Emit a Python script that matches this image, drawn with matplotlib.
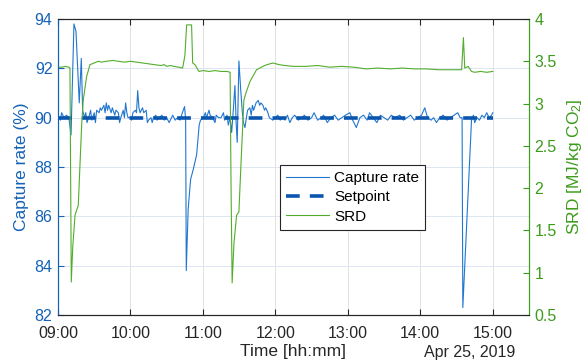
import matplotlib
matplotlib.use("Agg")
import matplotlib.pyplot as plt
import pandas as pd

plt.rcParams['font.family'] = ['Liberation Sans', 'DejaVu Sans']
plt.rcParams['mathtext.fontset'] = 'custom'
plt.rcParams['mathtext.rm'] = 'Liberation Sans'
plt.rcParams['mathtext.it'] = 'Liberation Sans:italic'

# ---------------- data (minutes after 09:00 on 2019-04-25) ----------------
capture_min = [0, 2, 3, 5, 7, 9, 10.8, 13.2, 14.9, 17.6, 19.3, 20.4, 22, 23, 24, 26, 27, 28, 30, 31,
               32, 34, 35, 36, 38, 39, 40, 41, 42, 44, 45, 47, 48, 50, 51, 52, 54, 55, 56, 57,
               58, 60, 61, 62, 64, 65, 66, 67, 68, 70, 71, 73, 74, 75, 77, 78, 79, 81, 82, 84,
               86, 88, 90, 92, 94, 95, 97, 99, 101, 103, 104.8, 105.7, 106.2, 107.8, 109.8, 112,
               114.8, 116.9, 118, 120.3, 122, 123, 125, 126, 128, 130, 131, 133, 135, 137, 138,
               140, 141, 142.5, 143.8, 145, 146.5, 147.5, 148.4, 149.8, 151.2, 152.5, 153.5,
               154.8, 156, 157, 158.9, 160, 161, 162, 164, 165.8, 167, 168, 169.7, 171, 172,
               173.8, 175, 177.9, 180, 182, 184, 186, 188, 190, 192, 194, 196, 199, 202, 204,
               207, 210, 212, 215, 218, 220, 223, 226, 229, 232, 235, 238, 241.7, 244, 247, 250,
               253, 256, 258, 261, 264, 267, 270, 273, 276, 279, 283, 286, 289, 292, 295, 298,
               301, 303.7, 306, 309, 311, 313.4, 316, 319, 322, 325, 328, 331, 333, 334.6, 335.2,
               342.4, 344, 345, 347, 349, 351, 353, 355, 357, 359, 360]
capture_val = [90.1, 89.9, 90.2, 90.0, 90.1, 90.0, 89.3, 93.8, 93.5, 90.6, 92.4, 90.3, 90.0, 90.2, 89.8, 90.1, 90.3, 89.9, 90.2, 89.8,
               90.3, 90.2, 90.4, 90.3, 90.5, 90.2, 90.6, 90.3, 90.5, 90.2, 90.4, 90.1, 90.3, 90.2, 89.8, 90.0, 90.3, 90.0, 90.6, 90.2,
               90.0, 90.0, 89.9, 90.2, 90.3, 90.2, 91.1, 90.4, 90.2, 90.4, 90.2, 90.3, 89.8, 89.9, 90.0, 89.8, 90.0, 90.1, 89.9, 90.0,
               90.1, 89.9, 90.0, 89.8, 90.0, 90.1, 89.9, 90.0, 89.9, 90.2, 90.45, 89.9, 83.8, 86.3, 87.5, 87.9,
               88.5, 89.7, 89.9, 90.0, 90.2, 90.0, 90.3, 90.1, 90.0, 89.8, 90.1, 90.0, 90.0, 90.2, 89.9,
               90.1, 89.7, 90.0, 89.4, 90.2, 91.3, 89.8, 89.0, 92.3, 91.2, 90.3, 89.8,
               89.6, 90.0, 90.3, 90.4, 90.1, 90.5, 90.3, 90.6, 90.7, 90.5, 90.6, 90.5, 90.3, 90.4,
               90.2, 90.0, 89.9, 90.0, 90.1, 89.9, 90.0, 89.9, 90.1, 89.8, 90.0, 90.1, 89.9, 90.0, 90.1,
               89.9, 90.0, 90.2, 89.9, 90.0, 90.1, 89.8, 90.0, 90.1, 89.9, 90.0, 90.1, 90.2, 89.9, 89.6, 90.0,
               90.1, 89.9, 90.2, 90.0, 89.8, 90.1, 90.0, 89.9, 90.1, 90.0, 90.1, 89.9, 90.0, 90.1, 89.9, 90.0,
               90.1, 90.4, 90.0, 89.9, 90.0, 89.8, 90.0, 90.1, 89.9, 90.0, 90.1, 90.2, 90.0, 90.0, 82.3,
               89.9, 90.1, 89.8, 90.0, 89.9, 90.1, 90.0, 90.2, 90.0, 90.1, 90.2]

srd_min = [0, 3, 6, 9, 9.9, 11.0, 12.2, 14.1, 16.8, 19.6, 20.9, 23.7, 26.5, 33.4, 36, 40, 45, 50, 55,
           60, 65, 70, 75, 80, 85, 88, 90, 93, 96, 100, 103.2, 105.1, 106.5, 110.6, 111.5, 113.4,
           116.7, 120, 125, 130, 135, 140, 142.5, 143.3, 144.2, 145.7, 147.9, 149.8, 151.4, 153.9,
           155.5, 158.9, 164.4, 169.7, 173, 178, 183, 188, 195, 205, 215, 225, 235, 245, 255, 265,
           275, 285, 295, 305, 315, 325, 334.2, 335.7, 336.8, 339.6, 342.4, 345, 350, 355, 360]
srd_val = [3.43, 3.43, 3.44, 3.43, 3.42, 0.89, 1.30, 1.68, 1.80, 2.75, 3.04, 3.32, 3.46, 3.50, 3.49, 3.50, 3.51, 3.50, 3.49,
           3.50, 3.49, 3.48, 3.47, 3.46, 3.45, 3.46, 3.44, 3.45, 3.44, 3.43, 3.42, 3.57, 3.93, 3.93, 3.48, 3.46,
           3.38, 3.39, 3.38, 3.39, 3.38, 3.38, 3.37, 2.0, 0.88, 1.35, 1.68, 1.72, 2.25, 3.04,
           3.12, 3.26, 3.40, 3.44, 3.46, 3.48, 3.46, 3.45, 3.44, 3.44, 3.45, 3.43, 3.44, 3.43, 3.41, 3.42,
           3.41, 3.42, 3.41, 3.41, 3.40, 3.40, 3.40, 3.78, 3.42, 3.44, 3.38, 3.37, 3.38, 3.37, 3.38]

setpoint_min = [0, 360]
setpoint_val = [90, 90]

left_ticks = [82, 84, 86, 88, 90, 92, 94]
right_ticks = [0.5, 1, 1.5, 2, 2.5, 3, 3.5, 4]
right_ticklabels = ['0.5', '1', '1.5', '2', '2.5', '3', '3.5', '4']
hour_ticks = ['09:00', '10:00', '11:00', '12:00', '13:00', '14:00', '15:00']

start = pd.Timestamp('2019-04-25 09:00')
def to_time(mins):
    return start + pd.to_timedelta(mins, unit='min')

BLUE_TXT = '#1462b8'
GREEN_TXT = '#3c9c1c'
BLUE_LINE = '#2176cf'
SET_LINE = '#0a55ae'
GREEN_LINE = '#52ad2c'
DARK = '#262626'

fig = plt.figure(figsize=(5.88, 3.63), dpi=100)
ax = fig.add_axes([58/588, 1 - 315/363, (529 - 58)/588, (315 - 19)/363])
ax2 = ax.twinx()

l1, = ax.plot(to_time(capture_min), capture_val, color=BLUE_LINE, lw=0.8, label='Capture rate', zorder=3)
l2, = ax.plot(to_time(setpoint_min), setpoint_val, color=SET_LINE, lw=2.6,
              linestyle=(0, (3.8, 2.8)), label='Setpoint', zorder=4)
l3, = ax2.plot(to_time(srd_min), srd_val, color=GREEN_LINE, lw=0.8, label='SRD')

ax.set_xlim(start, start + pd.Timedelta(minutes=390))
ax.set_ylim(82, 94)
ax2.set_ylim(0.5, 4)
ax.set_xticks([start + pd.Timedelta(hours=h) for h in range(7)])
ax.set_xticklabels(hour_ticks)
ax.set_yticks(left_ticks)
ax.set_yticklabels([str(t) for t in left_ticks])
ax2.set_yticks(right_ticks)
ax2.set_yticklabels(right_ticklabels)

# grid
for t in left_ticks[1:-1]:
    ax.axhline(t, color='#dce6f2', lw=0.7, zorder=0)
for h in range(1, 7):
    ax.axvline(start + pd.Timedelta(hours=h), color='#e2e2e2', lw=0.7, zorder=0)

ax.tick_params(axis='x', direction='in', top=True, length=4, width=0.8, colors=DARK,
               labelsize=11.5, pad=8, labelcolor=DARK)
ax.tick_params(axis='y', direction='in', length=4, width=0.8, color=BLUE_TXT,
               labelcolor=BLUE_TXT, labelsize=11.5, pad=4)
ax2.tick_params(axis='y', direction='in', length=4, width=0.8, color=GREEN_TXT,
                labelcolor=GREEN_TXT, labelsize=11.5, pad=4)

for a in (ax, ax2):
    a.spines['top'].set_color(DARK)
    a.spines['bottom'].set_color(DARK)
    a.spines['left'].set_color(BLUE_TXT)
    a.spines['right'].set_color(GREEN_TXT)
    for s in a.spines.values():
        s.set_linewidth(0.8)

ax.set_ylabel('Capture rate (%)', color=BLUE_TXT, fontsize=12.5, labelpad=4)
ax2.set_ylabel('SRD [MJ/kg CO$_2$]', color=GREEN_TXT, fontsize=12.5, labelpad=6)
ax.set_xlabel('Time [hh:mm]', color=DARK, fontsize=12.5, labelpad=2)
fig.text(515/588, 1 - 352/363, 'Apr 25, 2019', ha='right', va='center', fontsize=11.5, color=DARK)

leg = ax2.legend([l1, l2, l3], ['Capture rate', 'Setpoint', 'SRD'],
                 loc='upper left', bbox_to_anchor=(280/588, 1 - 165/363),
                 bbox_transform=fig.transFigure, fancybox=False, framealpha=1,
                 edgecolor=DARK, fontsize=11, handlelength=2.8, handletextpad=0.35,
                 borderpad=0.4, labelspacing=0.35, borderaxespad=0)
leg.get_frame().set_linewidth(0.8)

fig.savefig('out.png', dpi=100)
